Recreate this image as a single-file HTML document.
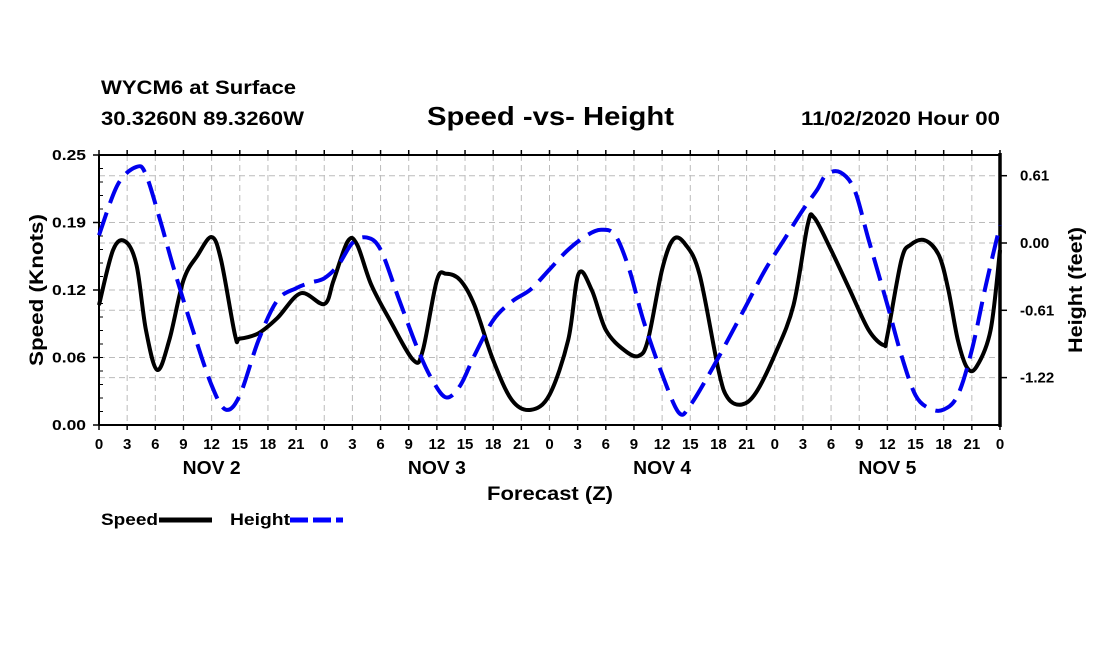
<!DOCTYPE html>
<html><head><meta charset="utf-8"><style>
body{margin:0;background:#fff;}
svg text{font-family:"Liberation Sans",sans-serif;font-weight:bold;fill:#000;}
</style></head><body>
<svg id="c" width="1100" height="650" xmlns="http://www.w3.org/2000/svg">
<text x="101" y="94" font-size="19" textLength="195" lengthAdjust="spacingAndGlyphs">WYCM6 at Surface</text>
<text x="101" y="125" font-size="19" textLength="203" lengthAdjust="spacingAndGlyphs">30.3260N 89.3260W</text>
<text x="427" y="125" font-size="26" textLength="247" lengthAdjust="spacingAndGlyphs">Speed -vs- Height</text>
<text x="801" y="125" font-size="19" textLength="199" lengthAdjust="spacingAndGlyphs">11/02/2020 Hour 00</text>
<g id="grid"></g><g id="axes"></g><g id="series"></g>
<text x="487" y="500" font-size="19" textLength="126" lengthAdjust="spacingAndGlyphs">Forecast (Z)</text>
<text transform="translate(43,290) rotate(-90)" font-size="19" text-anchor="middle" textLength="152" lengthAdjust="spacingAndGlyphs">Speed (Knots)</text>
<text transform="translate(1082,290) rotate(-90)" font-size="19" text-anchor="middle" textLength="126" lengthAdjust="spacingAndGlyphs">Height (feet)</text>
<g>
<text x="101" y="525" font-size="17" textLength="57" lengthAdjust="spacingAndGlyphs">Speed</text>
<line x1="159" y1="520" x2="212" y2="520" stroke="#000" stroke-width="5"/>
<text x="230" y="525" font-size="17" textLength="60" lengthAdjust="spacingAndGlyphs">Height</text>
<line x1="290" y1="520" x2="343" y2="520" stroke="#00f" stroke-width="5" stroke-dasharray="18,5"/>
</g>
</svg>
<script>
const speedHours=[0,1.5,2.8,4,5,6.2,7.5,9,10.5,12,13,14.5,15,17,19,21.5,24,25,26.5,27.5,29,31,33.5,34.5,36,37,38.5,40,42,44,46,48,50,51.1,52.5,54,56,57.5,58.5,60,61.2,62.5,64,66,67,68.5,70,72,74,75.5,76.2,78,80,82,83.6,84,85.5,86.5,88,89.5,90.5,91.5,92.5,93.5,95,96];
const speedValues=[0.111,0.162,0.170,0.148,0.088,0.051,0.079,0.134,0.157,0.174,0.153,0.083,0.080,0.085,0.099,0.122,0.112,0.134,0.170,0.167,0.130,0.097,0.060,0.069,0.134,0.140,0.134,0.111,0.060,0.023,0.014,0.028,0.079,0.140,0.125,0.088,0.069,0.064,0.079,0.144,0.172,0.167,0.139,0.051,0.025,0.019,0.030,0.065,0.111,0.185,0.192,0.162,0.125,0.088,0.074,0.083,0.153,0.167,0.171,0.157,0.125,0.079,0.053,0.054,0.088,0.162];
const heightHours=[0,2,4,5,6.5,8,10,12,13.5,15,17,19,21,22.5,24,25.5,27,28.5,30,32,34,35.5,37,38.5,40,42,44,46,48,50,52,53.5,55,56.5,58,60,61.8,63,65,67,69,71,73,75,76.5,77.5,79,80.5,82,84,85.5,87,88.5,90,91.5,93,94.5,96];
const heightValues=[0.07,0.53,0.69,0.62,0.21,-0.24,-0.79,-1.29,-1.51,-1.38,-0.88,-0.52,-0.41,-0.36,-0.32,-0.20,0.00,0.05,-0.06,-0.52,-0.97,-1.24,-1.40,-1.29,-1.02,-0.70,-0.53,-0.42,-0.24,-0.06,0.07,0.12,0.07,-0.24,-0.70,-1.19,-1.54,-1.47,-1.19,-0.88,-0.56,-0.24,0.03,0.30,0.48,0.62,0.64,0.48,0.03,-0.56,-1.02,-1.38,-1.50,-1.51,-1.38,-0.97,-0.38,0.16];
const speedTicks=[0,0.0625,0.125,0.1875,0.25];
const speedTickLabels=["0.00","0.06","0.12","0.19","0.25"];
const heightTicks=[0.61,0,-0.61,-1.22];
const heightTickLabels=["0.61","0.00","-0.61","-1.22"];
const hourLabels=["0","3","6","9","12","15","18","21"];
const dayLabels=["NOV 2","NOV 3","NOV 4","NOV 5"];

const NS="http://www.w3.org/2000/svg";
const X0=99,X1=1000,Y0=425,Y1=155;
const xs=h=>X0+h*(X1-X0)/96;
const ys=v=>Y0-(v/0.25)*(Y0-Y1);
const yh=v=>243-v*(67.3/0.61);
function el(tag,attrs,parent){const e=document.createElementNS(NS,tag);for(const k in attrs)e.setAttribute(k,attrs[k]);parent.appendChild(e);return e;}
const grid=document.getElementById('grid'),axes=document.getElementById('axes'),series=document.getElementById('series');
for(let h=3;h<96;h+=3){const l=el('line',{x1:xs(h),x2:xs(h),y1:Y1,y2:Y0,stroke:'#bbb','stroke-dasharray':'6,4'},grid);

}
speedTicks.forEach((v,i)=>{if(i>0&&i<4){const l=el('line',{x1:X0,x2:X1,y1:ys(v),y2:ys(v),stroke:'#bbb','stroke-dasharray':'6,4'},grid);

}
const t=el('text',{x:86,y:ys(v)+5,'font-size':15,'text-anchor':'end',textLength:34,lengthAdjust:'spacingAndGlyphs'},axes);t.textContent=speedTickLabels[i];


el('line',{x1:X0-6,x2:X0,y1:ys(v),y2:ys(v),stroke:'#000','stroke-width':1.5},axes);});
for(let v=0;v<=0.25;v+=0.0125){el('line',{x1:X0,x2:X0+4,y1:ys(v),y2:ys(v),stroke:'#000'},axes);}
heightTicks.forEach((v,i)=>{const l=el('line',{x1:X0,x2:X1,y1:yh(v),y2:yh(v),stroke:'#bbb','stroke-dasharray':'6,4'},grid);


el('line',{x1:X1,x2:X1+7,y1:yh(v),y2:yh(v),stroke:'#000','stroke-width':1.5},axes);
const t=el('text',{x:1020,y:yh(v)+5,'font-size':15},axes);t.textContent=heightTickLabels[i];

});
for(let h=0;h<=96;h+=3){el('line',{x1:xs(h),x2:xs(h),y1:Y0,y2:Y0+5,stroke:'#000','stroke-width':1.5},axes);
el('line',{x1:xs(h),x2:xs(h),y1:Y1,y2:Y1-5,stroke:'#000','stroke-width':1.5},axes);
const t=el('text',{x:xs(h),y:449,'font-size':15,'text-anchor':'middle'},axes);t.textContent=h===96?"0":hourLabels[(h/3)%8];

}
dayLabels.forEach((d,i)=>{const t=el('text',{x:xs(12+24*i)-29,y:474,'font-size':18,textLength:58,lengthAdjust:'spacingAndGlyphs'},axes);t.textContent=d;

});
const frame=el('path',{d:`M${X0},${Y1}H${X1}M${X0},${Y0}H${X1}M${X0},${Y1}V${Y0}`,stroke:'#000','stroke-width':2,fill:'none'},axes);


const ra=el('line',{x1:X1,x2:X1,y1:Y1-2,y2:Y0+2,stroke:'#000','stroke-width':3.5},axes);


function smooth(pts){let d=`M${pts[0][0]},${pts[0][1]}`;for(let i=0;i<pts.length-1;i++){const p0=pts[Math.max(0,i-1)],p1=pts[i],p2=pts[i+1],p3=pts[Math.min(pts.length-1,i+2)];
d+=`C${p1[0]+(p2[0]-p0[0])/6},${p1[1]+(p2[1]-p0[1])/6} ${p2[0]-(p3[0]-p1[0])/6},${p2[1]-(p3[1]-p1[1])/6} ${p2[0]},${p2[1]}`;}return d;}
const sp=el('path',{d:smooth(speedHours.map((h,i)=>[xs(h),ys(speedValues[i])])),stroke:'#000','stroke-width':4,fill:'none','stroke-linejoin':'round'},series);


const hp=el('path',{d:smooth(heightHours.map((h,i)=>[xs(h),yh(heightValues[i])])),stroke:'#0000ee','stroke-width':4,fill:'none','stroke-dasharray':'24,10'},series);


</script>
</body></html>
